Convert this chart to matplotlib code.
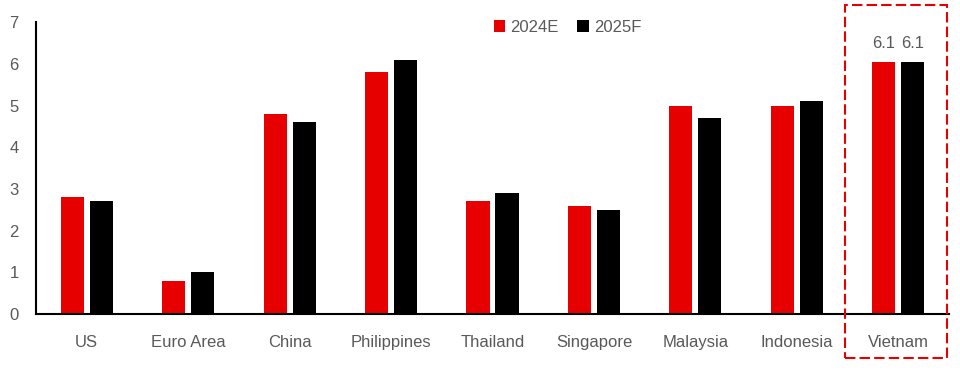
import matplotlib
matplotlib.use("Agg")
import matplotlib.pyplot as plt
from matplotlib.patches import Rectangle
import numpy as np

categories = ["US", "Euro Area", "China", "Philippines", "Thailand",
              "Singapore", "Malaysia", "Indonesia", "Vietnam"]
gdp_2024e = [2.8, 0.8, 4.8, 5.8, 2.7, 2.6, 5.0, 5.0, 6.05]
gdp_2025f = [2.7, 1.0, 4.6, 6.1, 2.9, 2.5, 4.7, 5.1, 6.05]
vietnam_labels = ["6.1", "6.1"]

plt.rcParams["font.family"] = ["Liberation Sans", "DejaVu Sans"]
text_color = "#595959"
fs = 12

fig = plt.figure(figsize=(9.6, 3.76), dpi=100)
ax = fig.add_axes([0.0375, 0.165, 0.951, 0.776])

x = np.arange(len(categories))
w = 0.228
off = 0.143
ax.bar(x - off, gdp_2024e, width=w, color="#E60000", label="2024E")
ax.bar(x + off, gdp_2025f, width=w, color="#000000", label="2025F")

# labels only on Vietnam
ax.text(x[-1] - off, gdp_2024e[-1] + 0.25, vietnam_labels[0], ha="center", va="bottom",
        fontsize=fs, color=text_color)
ax.text(x[-1] + off, gdp_2025f[-1] + 0.25, vietnam_labels[1], ha="center", va="bottom",
        fontsize=fs, color=text_color)

ax.set_xlim(-0.5, len(categories) - 0.5)
ax.set_ylim(0, 7)
ax.set_yticks(range(0, 8))
ax.set_xticks(x)
ax.set_xticklabels(categories)
ax.tick_params(axis="both", length=0, labelsize=fs, labelcolor=text_color)
ax.tick_params(axis="x", pad=15)
ax.tick_params(axis="y", pad=19)
for lbl in ax.get_yticklabels():
    lbl.set_horizontalalignment("left")
ax.spines["top"].set_visible(False)
ax.spines["right"].set_visible(False)
ax.spines["left"].set_linewidth(1.5)
ax.spines["bottom"].set_linewidth(1.5)

# dashed highlight box around Vietnam (figure coords)
box = Rectangle((845 / 960, 1 - 358 / 376), (947 - 845) / 960, (358 - 5) / 376,
                transform=fig.transFigure, fill=False, edgecolor="#E60000",
                linestyle=(0, (5, 2)), linewidth=1.5, clip_on=False)
fig.patches.append(box)

leg = ax.legend(loc="upper center", bbox_to_anchor=(0.582, 1.06), ncol=2, frameon=False,
                fontsize=fs, handlelength=0.7, handleheight=0.7, handletextpad=0.3,
                columnspacing=1.1)
for t in leg.get_texts():
    t.set_color(text_color)

fig.savefig("out.png", dpi=100)
